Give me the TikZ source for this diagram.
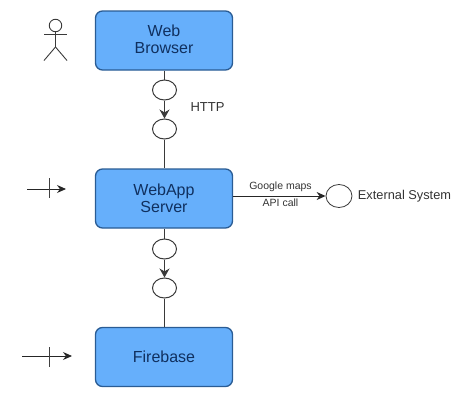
\documentclass[tikz,border=0pt]{standalone}
\usepackage{fontspec}
\setmainfont{Liberation Sans}
\usetikzlibrary{arrows.meta,shapes.geometric}
\definecolor{boxfill}{HTML}{66AFFB}
\definecolor{boxedge}{HTML}{2A5C94}
\definecolor{boxtext}{HTML}{10305F}
\definecolor{linegrey}{HTML}{3A3A3A}
\tikzset{
  box/.style={draw=boxedge,line width=1.3pt,fill=boxfill,rounded corners=7pt,minimum width=137pt,minimum height=59pt,inner sep=0pt,align=center,text=boxtext,font=\fontsize{16}{16.5}\selectfont},
  port/.style={draw=linegrey,line width=1pt,fill=white,ellipse,minimum width=24pt,minimum height=20pt,inner sep=0pt},
  extport/.style={draw=linegrey,line width=.8pt,fill=white,ellipse,minimum width=26pt,minimum height=23pt,inner sep=0pt},
  wire/.style={draw=linegrey,line width=1.1pt},
  flow/.style={wire,-{Stealth[length=9pt,width=10pt]}},
  thin flow/.style={draw=black!85,line width=.9pt,-{Stealth[length=9pt,width=8pt]}},
  tick/.style={draw=black!75,line width=.9pt},
  actorline/.style={draw=linegrey,line width=.9pt},
  lbl/.style={inner sep=0pt,text=black!80}
}
\begin{document}
\begin{tikzpicture}[x=1pt,y=-1pt]
\useasboundingbox (0,0) rectangle (475,405);
% boxes
\node[box] (browser) at (164,40.5) {\raisebox{3pt}{Web}\\\raisebox{3pt}{Browser}};
\node[box] (server) at (164,198.5) {WebApp\\Server};
\node[box] (firebase) at (164,357) {Firebase};
% ports
\node[port] (p1) at (164.5,90) {};
\node[port] (p2) at (164.5,129) {};
\node[port] (p3) at (164.5,249) {};
\node[port] (p4) at (164.5,288) {};
\node[extport] (ext) at (339,196) {};
% connectors
\draw[wire] (browser.south -| p1) -- (p1);
\draw[flow] (p1) -- (p2);
\draw[wire] (p2) -- (p2 |- server.north);
\draw[wire] (server.south -| p3) -- (p3);
\draw[flow] (p3) -- (p4);
\draw[wire] (p4) -- (p4 |- firebase.north);
\draw[thin flow] (server.east |- ext) -- (ext);
% labels
\node[lbl,font=\fontsize{13}{13}\selectfont] (http) at (207.5,107) {HTTP};
\node[lbl,font=\fontsize{10.5}{10.5}\selectfont] (gm) at (280.5,187) {Google maps};
\node[lbl,font=\fontsize{10.5}{10.5}\selectfont] (api) at (280.5,202.5) {API call};
\node[lbl,font=\fontsize{12.8}{12.8}\selectfont] (extlbl) at (404.5,196) {External System};
% actor
\node[draw=linegrey,line width=.9pt,circle,minimum size=12.5pt,inner sep=0pt] (head) at (55.5,25.5) {};
\coordinate (hip) at (55.5,47);
\coordinate (armL) at (44,34);
\coordinate (armR) at (67,34);
\coordinate (legL) at (44,60.5);
\coordinate (legR) at (67,60.5);
\draw[actorline] (head) -- (hip) -- (legL);
\draw[actorline] (hip) -- (legR);
\draw[actorline] (armL) -- (armR);
% entry arrows
\coordinate (a1s) at (27,189);
\coordinate (a1e) at (66,189);
\coordinate (a1t) at (49,178);
\coordinate (a1b) at (49,198);
\draw[thin flow] (a1s) -- (a1e);
\draw[tick] (a1t) -- (a1b);
\coordinate (a2s) at (22,356);
\coordinate (a2e) at (72,356);
\coordinate (a2t) at (49,347);
\coordinate (a2b) at (49,366.5);
\draw[thin flow] (a2s) -- (a2e);
\draw[tick] (a2t) -- (a2b);
\end{tikzpicture}
\end{document}
